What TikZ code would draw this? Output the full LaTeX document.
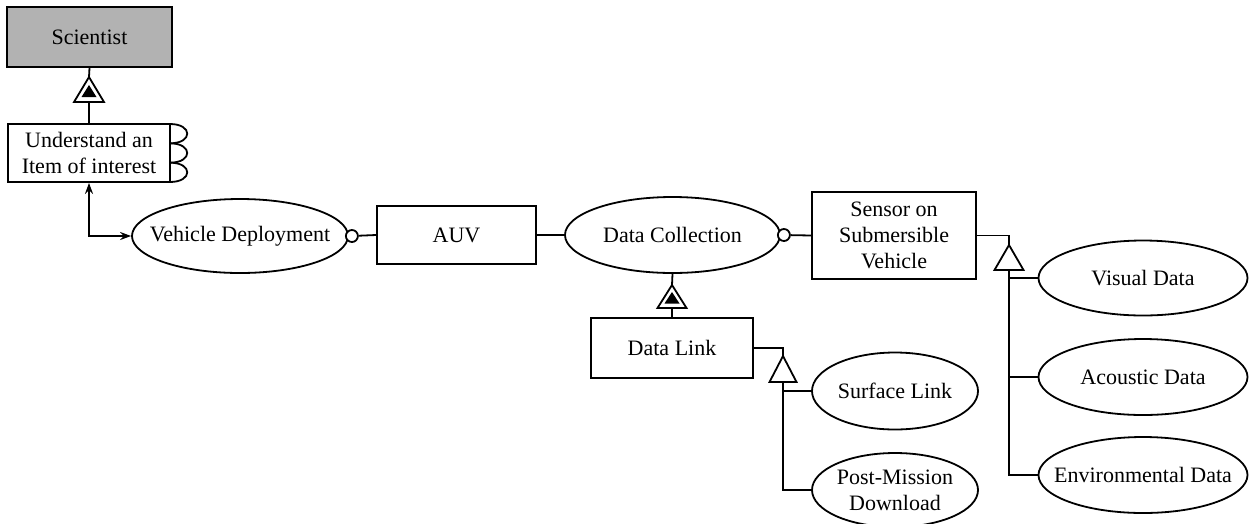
\documentclass[tikz,border=0pt]{standalone}
\usepackage{fontspec}
\setmainfont{Liberation Serif}
\usetikzlibrary{shapes.geometric,arrows.meta,calc}
\begin{document}
\begin{tikzpicture}[x=1pt,y=-1pt,
  txt/.style={font=\fontsize{22}{26}\selectfont,align=center},
  obj/.style={draw,line width=1.8pt,rectangle,inner sep=0pt,fill=white,txt},
  proc/.style={draw,line width=1.8pt,ellipse,inner sep=0pt,fill=white},
  con/.style={line width=1.8pt},
  tipb/.style={{Stealth[length=11pt,width=8pt]}-{Stealth[length=11pt,width=8pt]}},
  smallcirc/.style={circle,draw,line width=1.8pt,fill=white,minimum size=12pt,inner sep=0pt},
  tri/.style={line width=1.8pt,fill=white},
]
\useasboundingbox (0,0) rectangle (1249,523);
\clip (0,0) rectangle (1249,523);

% objects
\node[obj,fill=black!30,minimum width=165pt,minimum height=60pt] (sci) at (89.5,37) {Scientist};
\node[obj,minimum width=162pt,minimum height=58pt] (und) at (89,153) {Understand an\\Item of interest};
\node[obj,minimum width=159pt,minimum height=58pt] (auv) at (456.5,235) {AUV};
\node[obj,minimum width=164pt,minimum height=87pt] (sen) at (894,235.5) {Sensor on\\Submersible\\Vehicle};
\node[obj,minimum width=162pt,minimum height=60pt] (dl) at (672,348) {Data Link};

% processes
\node[proc,minimum width=216pt,minimum height=74pt,label={[txt]center:Vehicle Deployment}] (vd) at (240,236) {};
\node[proc,minimum width=215pt,minimum height=76pt,label={[txt]center:Data Collection}] (dc) at (672.5,235) {};
\node[proc,minimum width=166pt,minimum height=77pt,label={[txt]center:Surface Link}] (sl) at (895,391) {};
\node[proc,minimum width=166pt,minimum height=74pt,label={[txt]center:Post-Mission\\Download}] (pmd) at (895,490) {};
\node[proc,minimum width=209pt,minimum height=75pt,label={[txt]center:Visual Data}] (vis) at (1143,278) {};
\node[proc,minimum width=209pt,minimum height=76pt,label={[txt]center:Acoustic Data}] (aco) at (1143,377) {};
\node[proc,minimum width=209pt,minimum height=76pt,label={[txt]center:Environmental Data}] (env) at (1143,475) {};

% bumps on Understand box (iterating process)
\foreach \i in {0,1,2} {
  \draw[con] (170,124+19.33*\i) .. controls (193,124+19.33*\i) and (193,124+19.33*\i+19.33) .. (170,124+19.33*\i+19.33);
}

% triangle anchor coordinates
\coordinate (a1t) at (89,77);   \coordinate (a1b) at (89,102);
\coordinate (a2t) at (672,285); \coordinate (a2b) at (672,308);
\coordinate (g1t) at (783,356); \coordinate (g1b) at (783,382);
\coordinate (g2t) at (1009,245); \coordinate (g2b) at (1009,270);

% connectors
\draw[con] (sci.south) -- (a1t);
\draw[con] (a1b) -- (und.north);
\draw[con,tipb] (und.south) |- (vd.west);
\node[smallcirc] (c1) at ($(vd.east)+(3,0)$) {};
\draw[con] (c1) -- (auv.west);
\draw[con] (auv.east) -- (dc.west);
\node[smallcirc] (c2) at ($(dc.east)+(3,0)$) {};
\draw[con] (c2) -- (sen.west);
\draw[con] (dc.south) -- (a2t);
\draw[con] (a2b) -- (dl.north);
\draw[con] (dl.east) -| (g1t);
\draw[con] (g1b) |- (sl.west);
\draw[con] (g1b) |- (pmd.west);
\draw[con] (sen.east) -| (g2t);
\draw[con] (g2b) |- (vis.west);
\draw[con] (g2b) |- (aco.west);
\draw[con] (g2b) |- (env.west);

% aggregation triangles
\draw[tri] (a1t) -- ++(15,25) -- ++(-30,0) -- cycle;
\fill ($(a1t)+(0,8)$) -- ++(7.5,12) -- ++(-15,0) -- cycle;
\draw[tri] (a2t) -- ++(14.5,23) -- ++(-29,0) -- cycle;
\fill ($(a2t)+(0,7)$) -- ++(7.5,11.5) -- ++(-15,0) -- cycle;
% specialization triangles
\draw[tri] (g1t) -- ++(13.5,26) -- ++(-27,0) -- cycle;
\draw[tri] (g2t) -- ++(14.5,25) -- ++(-29,0) -- cycle;
\end{tikzpicture}
\end{document}
